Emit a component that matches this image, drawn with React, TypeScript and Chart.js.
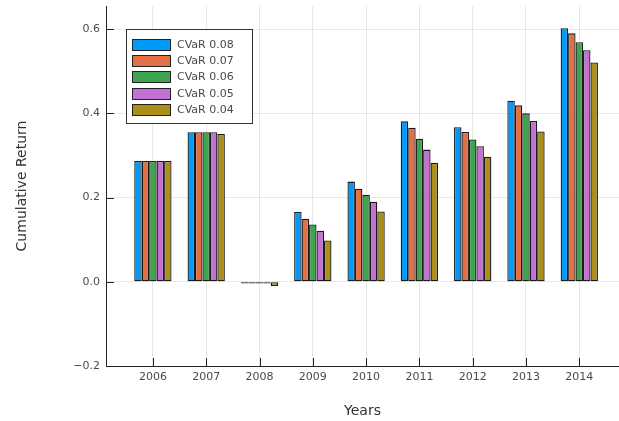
import React, { useEffect, useRef } from "react";
import { Chart, registerables } from "chart.js";

Chart.register(...registerables);

const years = ["2006", "2007", "2008", "2009", "2010", "2011", "2012", "2013", "2014"];
const seriesLabels = ["CVaR 0.08", "CVaR 0.07", "CVaR 0.06", "CVaR 0.05", "CVaR 0.04"];
const cvar008 = [0.287, 0.355, -0.004, 0.166, 0.238, 0.381, 0.367, 0.430, 0.602];
const cvar007 = [0.287, 0.355, -0.004, 0.150, 0.221, 0.366, 0.356, 0.419, 0.590];
const cvar006 = [0.287, 0.355, -0.004, 0.136, 0.207, 0.340, 0.338, 0.400, 0.569];
const cvar005 = [0.287, 0.355, -0.004, 0.121, 0.190, 0.314, 0.322, 0.382, 0.550];
const cvar004 = [0.287, 0.351, -0.010, 0.098, 0.167, 0.283, 0.297, 0.357, 0.521];
const yTickValues = [-0.2, 0.0, 0.2, 0.4, 0.6];
const colors = ["#009AFA", "#E36F47", "#3EA44E", "#C371D2", "#AC8E18"];

const FONT = "'DejaVu Sans', sans-serif";
const TEXT = "#4a4a4a";

const innerTicks = {
  id: "innerTicks",
  afterDraw(chart: any) {
    const { ctx, chartArea, scales } = chart;
    ctx.save();
    ctx.strokeStyle = "#222";
    ctx.lineWidth = 1;
    ctx.beginPath();
    scales.y.ticks.forEach((t: any) => {
      const y = Math.round(scales.y.getPixelForValue(t.value)) + 0.5;
      ctx.moveTo(chartArea.left, y);
      ctx.lineTo(chartArea.left + 8, y);
    });
    scales.x.ticks.forEach((t: any) => {
      const x = Math.round(scales.x.getPixelForValue(t.value)) + 0.5;
      ctx.moveTo(x, chartArea.bottom);
      ctx.lineTo(x, chartArea.bottom - 8);
    });
    ctx.stroke();
    ctx.restore();
  },
};

const boxLegend = {
  id: "boxLegend",
  afterDraw(chart: any) {
    const { ctx, chartArea } = chart;
    const ds = chart.data.datasets;
    const left = chartArea.left + 20;
    const top = chartArea.top + 23;
    const w = 126;
    const rowH = 16.2;
    const h = 16 + rowH * ds.length - 3;
    ctx.save();
    ctx.fillStyle = "#fff";
    ctx.fillRect(left, top, w, h);
    ctx.strokeStyle = "#333";
    ctx.lineWidth = 1;
    ctx.strokeRect(Math.round(left) + 0.5, Math.round(top) + 0.5, w, h);
    ctx.font = `11px ${FONT}`;
    ctx.textBaseline = "middle";
    ctx.textAlign = "left";
    ds.forEach((d: any, i: number) => {
      const cy = Math.round(top + 16 + i * rowH);
      const sx = Math.round(left + 6);
      ctx.fillStyle = d.backgroundColor;
      ctx.fillRect(sx, cy - 6, 39, 12);
      ctx.strokeStyle = "#222";
      ctx.strokeRect(sx + 0.5, cy - 6 + 0.5, 38, 11);
      ctx.fillStyle = TEXT;
      ctx.fillText(d.label, sx + 45, cy + 0.5);
    });
    ctx.restore();
  },
};

export default function App() {
  const ref = useRef<HTMLCanvasElement | null>(null);
  useEffect(() => {
    if (!ref.current) return;
    const allSeries = [cvar008, cvar007, cvar006, cvar005, cvar004];
    const chart = new Chart(ref.current, {
      type: "bar",
      data: {
        datasets: allSeries.map((vals, k) => ({
          label: seriesLabels[k],
          data: vals.map((v, i) => ({ x: i + 1, y: v })),
          backgroundColor: colors[k],
          borderColor: "#1a1a1a",
          borderWidth: 1.3,
          borderSkipped: false,
          inflateAmount: 0,
          categoryPercentage: 0.7,
          barPercentage: 1.0,
        })),
      },
      options: {
        animation: false,
        responsive: false,
        maintainAspectRatio: false,
        layout: { padding: { top: 6, left: 0, right: 0, bottom: 0 } },
        plugins: { legend: { display: false }, tooltip: { enabled: false } },
        scales: {
          x: {
            type: "linear",
            min: 0.12,
            max: 9.745,
            offset: false,
            afterBuildTicks: (axis: any) => {
              axis.ticks = years.map((_, i) => ({ value: i + 1 }));
            },
            afterFit: (s: any) => {
              s.height = 55;
              s.paddingLeft = 0;
              s.paddingRight = 0;
            },
            grid: { offset: false, color: "rgba(0,0,0,0.09)", drawTicks: false },
            border: { display: true, color: "#222", width: 1 },
            ticks: {
              padding: 5,
              color: TEXT,
              font: { family: FONT, size: 11 },
              callback: (v: any) => years[Math.round(v) - 1] ?? "",
              maxRotation: 0,
            },
            title: {
              display: true,
              text: "Years",
              color: "#333",
              font: { family: FONT, size: 14 },
              padding: { top: 0, bottom: 1 },
            },
          },
          y: {
            type: "linear",
            min: -0.2,
            max: 0.655,
            afterBuildTicks: (axis: any) => {
              axis.ticks = yTickValues.map((v) => ({ value: v }));
            },
            afterFit: (s: any) => {
              s.width = 106;
              s.paddingTop = 0;
              s.paddingBottom = 0;
            },
            grid: { color: "rgba(0,0,0,0.09)", drawTicks: false },
            border: { display: true, color: "#222", width: 1 },
            ticks: {
              padding: 6,
              color: TEXT,
              font: { family: FONT, size: 11 },
              callback: (v: any) => Number(v).toFixed(1).replace("-", "\u2212"),
            },
            title: {
              display: true,
              text: "Cumulative Return",
              color: "#333",
              font: { family: FONT, size: 14 },
              padding: { top: 14, bottom: 0 },
            },
          },
        },
      },
      plugins: [innerTicks, boxLegend],
    } as any);
    return () => chart.destroy();
  }, []);
  return (
    <div style={{ position: "fixed", left: 0, top: 0, width: 619, height: 421, overflow: "hidden", background: "#fff" }}>
      <canvas ref={ref} width={619} height={421} />
    </div>
  );
}
